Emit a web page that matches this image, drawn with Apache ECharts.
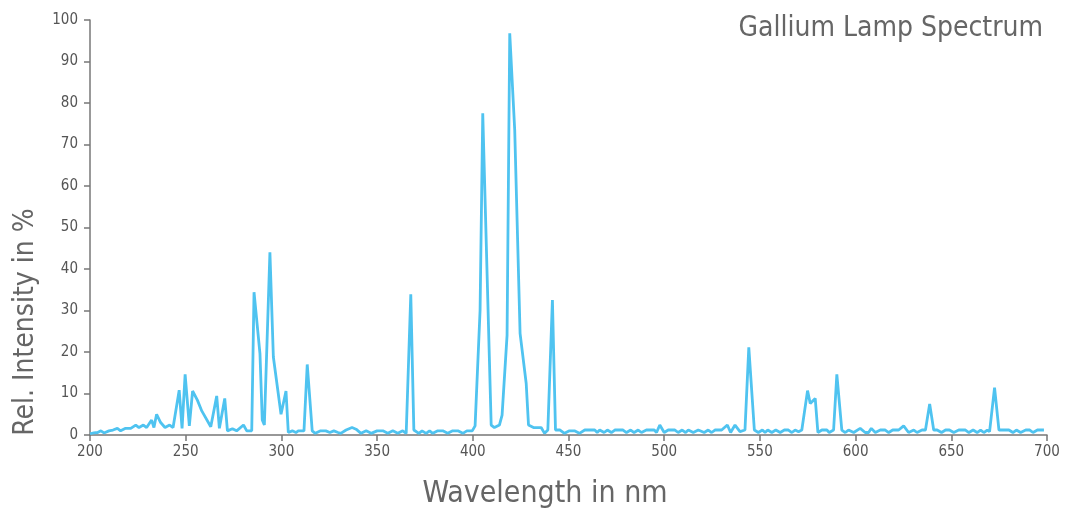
<!DOCTYPE html>
<html>
<head>
<meta charset="utf-8">
<script src="https://cdn.jsdelivr.net/npm/echarts@6/dist/echarts.min.js"></script>
<style>
html,body{margin:0;padding:0;background:#fff;}
#chart{width:1068px;height:518px;}
</style>
</head>
<body>
<div id="chart"></div>
<script>
const wavelengths = [
200,202,204,205.7,207.3,209.9,212,214.3,216,218.6,221.3,223.9,225.6,227.9,229.6,232.2,233.4,234.8,236.9,239.2,
241.6,243.4,246.6,248.1,249.7,251.9,253.6,256.1,258.4,263.1,264,266.2,267.6,270.4,271.8,274.4,276.6,280.2,281.9,284.5,
285.7,288.8,290.0,291.1,294,295.8,299.8,302.4,303.6,305.7,307.6,308.8,311.8,313.5,316.1,317.7,320.5,323.2,325.3,327.4,
329.6,331,333.8,336.9,339,341.6,344.3,346.9,350,353,355.6,358.2,360.8,363.4,365.2,367.6,369.2,371.8,373.5,375.6,
377.4,379.1,381.7,384.3,386.9,389.5,392.2,394.8,396.9,399.7,401.2,403.8,405.2,409.6,411.3,413.9,415.3,417.9,419.3,421.9,
424.7,427.9,429.1,431.7,435.7,437.5,439.2,441.6,443.2,445.6,447.9,450.5,453.1,455.7,458.5,463.7,465,466.3,468.6,470.3,
472.4,474.2,478.5,480.3,482.5,484.3,486.4,488.1,490.7,494.8,496,497.7,500,502.1,505.6,507.3,509.4,511.2,512.6,515.2,
517.8,520.9,523,524.8,526.5,530,533,534.7,537,539.6,542.2,544.2,547.1,549.2,551.3,552.7,554.1,556.2,558.3,560.6,
562.8,564.9,566.7,568.4,570.2,571.9,574.9,576.3,578.9,580.3,582.4,585,586.2,588.5,590.2,592.8,594.6,596.3,599,602.4,
605,606.8,608.2,610.3,612.9,615.5,617.3,619.4,622.5,625.1,627.7,630.4,632.1,634.7,636.5,638.7,640.8,642.6,644.9,647,
649,651.3,653.9,657.4,659.2,661.4,663.5,665.3,667,668.8,670,672.6,674.9,680.1,682.2,684,686.2,688.9,691,692.7,
695,698.4
];
const intensities = [
0.3,0.5,0.6,1.0,0.5,1.0,1.2,1.6,1.0,1.6,1.6,2.4,1.8,2.4,1.8,3.6,1.8,5.0,3.0,1.8,
2.4,1.8,10.8,1.6,14.6,2.2,10.6,8.4,5.8,2.0,1.6,9.4,1.6,8.8,1.0,1.5,1.0,2.4,1.0,1.0,
34.4,19.6,3.6,2.4,44,18.8,5.0,10.6,0.6,1.0,0.6,1.0,1.0,17,1.0,0.4,1.0,1.0,0.6,1.0,
0.6,0.4,1.2,1.8,1.4,0.4,1.0,0.4,1.0,1.0,0.4,1.0,0.4,1.0,0.4,33.9,1.2,0.4,1.0,0.4,
1.0,0.4,1.0,1.0,0.4,1.0,1.0,0.4,1.0,1.0,2.2,30,77.5,2.4,1.8,2.4,4.8,24,96.8,73.5,
24.5,12.4,2.4,1.8,1.8,0.4,1.2,32.5,1.2,1.2,0.4,1.0,1.0,0.4,1.2,1.2,0.6,1.2,0.6,1.2,
0.6,1.2,1.2,0.6,1.2,0.6,1.2,0.6,1.2,1.2,0.6,2.4,0.6,1.2,1.2,0.6,1.2,0.6,1.2,0.6,
1.2,0.6,1.2,0.6,1.2,1.2,2.4,0.6,2.4,0.8,1.2,21.1,1.2,0.6,1.2,0.6,1.2,0.6,1.2,0.6,
1.2,1.2,0.6,1.2,0.8,1.2,10.7,7.6,8.8,0.6,1.2,1.2,0.6,1.2,14.6,1.2,0.6,1.2,0.6,1.6,
0.6,0.6,1.6,0.6,1.2,1.2,0.6,1.2,1.2,2.2,0.6,1.2,0.6,1.2,1.2,7.5,1.2,1.2,0.6,1.2,
1.2,0.6,1.2,1.2,0.6,1.2,0.6,1.2,0.6,1.2,0.8,11.4,1.2,1.2,0.6,1.2,0.6,1.2,1.2,0.6,
1.2,1.2
];
const xTicks = [200,250,300,350,400,450,500,550,600,650,700];
const yTicks = [0,10,20,30,40,50,60,70,80,90,100];
const titleText = 'Gallium Lamp Spectrum';
const xName = 'Wavelength in nm';
const yName = 'Rel. Intensity in %';

const FONT = "'Liberation Sans Narrow', 'DejaVu Sans Condensed', 'Noto Sans', sans-serif";
const points = wavelengths.map((w, i) => [w, intensities[i]]);

const chart = echarts.init(document.getElementById('chart'), null, {renderer: 'canvas'});
chart.setOption({
  animation: false,
  backgroundColor: '#ffffff',
  title: {
    text: titleText,
    right: 20,
    top: 10,
    textStyle: {fontFamily: FONT, fontSize: 28, fontWeight: 'normal', color: '#666666'}
  },
  grid: {left: 90, right: 21, top: 20, bottom: 83},
  xAxis: {
    type: 'value',
    min: xTicks[0], max: xTicks[xTicks.length - 1], interval: 50,
    axisLine: {show: true, lineStyle: {color: '#777777', width: 1.5}},
    axisTick: {show: true, length: 6, lineStyle: {color: '#777777', width: 1.5}},
    axisLabel: {fontFamily: FONT, fontSize: 15, color: '#555555', margin: 10},
    splitLine: {show: false}
  },
  yAxis: {
    type: 'value',
    min: yTicks[0], max: yTicks[yTicks.length - 1], interval: 10,
    axisLine: {show: true, lineStyle: {color: '#777777', width: 1.5}},
    axisTick: {show: true, length: 6, lineStyle: {color: '#777777', width: 1.5}},
    axisLabel: {fontFamily: FONT, fontSize: 15, color: '#555555', margin: 12},
    splitLine: {show: false}
  },
  graphic: [
    {
      type: 'text',
      x: 545, y: 494,
      style: {text: xName, fontFamily: FONT, fontSize: 30, fill: '#666666', align: 'center', verticalAlign: 'middle'}
    },
    {
      type: 'text',
      x: 26, y: 322,
      rotation: Math.PI / 2,
      style: {text: yName, fontFamily: FONT, fontSize: 28, fill: '#666666', align: 'center', verticalAlign: 'middle'}
    }
  ],
  series: [{
    type: 'line',
    data: points,
    showSymbol: false,
    symbol: 'none',
    lineStyle: {color: '#4FC3F0', width: 2.8},
    clip: true
  }]
});
</script>
</body>
</html>
